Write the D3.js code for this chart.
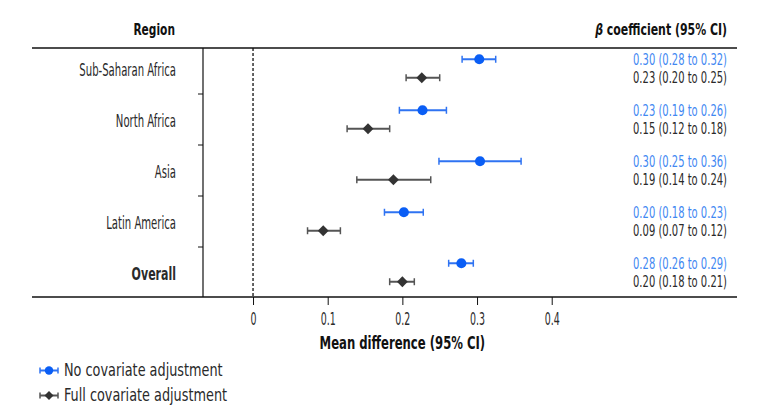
<!DOCTYPE html>
<html><head><meta charset="utf-8">
<script src="https://cdn.jsdelivr.net/npm/d3@7"></script>
<style>body{margin:0;background:#fff}svg{display:block}</style>
</head><body><svg id="c" width="771" height="414"></svg>
<script>
const regions = ["Sub-Saharan Africa","North Africa","Asia","Latin America","Overall"];
const noAdjEst = [0.303,0.227,0.304,0.202,0.279];
const noAdjLo  = [0.280,0.196,0.249,0.176,0.262];
const noAdjHi  = [0.325,0.259,0.359,0.228,0.295];
const fullEst  = [0.226,0.154,0.188,0.094,0.200];
const fullLo   = [0.205,0.126,0.139,0.073,0.183];
const fullHi   = [0.250,0.183,0.238,0.117,0.216];
const noAdjText = ["0.30 (0.28 to 0.32)","0.23 (0.19 to 0.26)","0.30 (0.25 to 0.36)","0.20 (0.18 to 0.23)","0.28 (0.26 to 0.29)"];
const fullText  = ["0.23 (0.20 to 0.25)","0.15 (0.12 to 0.18)","0.19 (0.14 to 0.24)","0.09 (0.07 to 0.12)","0.20 (0.18 to 0.21)"];
const xTicks = [0,0.1,0.2,0.3,0.4];
const seriesNames = ["No covariate adjustment","Full covariate adjustment"];

const FONT = "'DejaVu Sans Condensed','DejaVu Sans',sans-serif";
const svg = d3.select("#c").style("font-family", FONT);
const plotTop = 48, plotBottom = 297, axisX = 203;
const x = d3.scaleLinear().domain([-0.067, 0.4]).range([axisX, axisX + 0.467*746.7]);
const yG = d3.scaleBand().domain(regions).range([43, 298]);
const yS = d3.scalePoint().domain(["no","full"]).range([0, yG.bandwidth()]).padding(0.88);

// horizontally condense a text element about its anchor point
function cond(sel, sx){
  sel.each(function(){
    const t = d3.select(this), px = +t.attr("x")||0, py = +t.attr("y")||0;
    t.attr("transform", `translate(${px},${py}) scale(${sx},1) translate(${-px},${-py})`);
  });
  return sel;
}

const series = [
  {key:"no", est:noAdjEst, lo:noAdjLo, hi:noAdjHi, text:noAdjText, mark:"#0a5ef5", line:"#2f73f2", tc:"#3f88f2", shape:d3.symbolCircle, size:80},
  {key:"full", est:fullEst, lo:fullLo, hi:fullHi, text:fullText, mark:"#333", line:"#555", tc:"#2a2a2a", shape:d3.symbolDiamond2, size:75}
];

svg.append("line").attr("x1",32).attr("x2",737).attr("y1",plotTop).attr("y2",plotTop).attr("stroke","#111").attr("stroke-width",1.5);
svg.append("line").attr("x1",32).attr("x2",737).attr("y1",plotBottom).attr("y2",plotBottom).attr("stroke","#111").attr("stroke-width",1.5);
svg.append("line").attr("x1",axisX).attr("x2",axisX).attr("y1",plotTop).attr("y2",plotBottom).attr("stroke","#111").attr("stroke-width",1.2);
regions.slice(1).forEach(r=>{
  svg.append("line").attr("x1",axisX-5).attr("x2",axisX).attr("y1",yG(r)).attr("y2",yG(r)).attr("stroke","#111");
});
svg.append("line").attr("x1",x(0)).attr("x2",x(0)).attr("y1",plotTop).attr("y2",plotBottom).attr("stroke","#111").attr("stroke-width",1.3).attr("stroke-dasharray","3,2");

const xa = svg.append("g").attr("transform",`translate(0,${plotBottom})`)
  .call(d3.axisBottom(x).tickValues(xTicks).tickSize(8).tickPadding(8).tickFormat(d=>d===0?"0":d3.format(".1f")(d)));
xa.select(".domain").remove();
xa.selectAll("line").attr("stroke","#111");
xa.selectAll("text").attr("font-size",17.5).attr("fill","#2a2a2a").attr("font-family",FONT).attr("transform","scale(0.6,1)");

cond(svg.append("text").attr("x",175).attr("y",35).attr("text-anchor","end").attr("font-weight","bold").attr("font-size",16).attr("fill","#111").text("Region"),0.74);
const bh = svg.append("text").attr("x",727).attr("y",35).attr("text-anchor","end").attr("font-weight","bold").attr("font-size",16).attr("fill","#111");
bh.append("tspan").attr("font-style","italic").text("β");
bh.append("tspan").text(" coefficient (95% CI)");
cond(bh,0.76);

cond(svg.selectAll(".rl").data(regions).join("text").attr("class","rl")
  .attr("x",176).attr("y",d=>yG(d)+yG.bandwidth()/2+8).attr("text-anchor","end")
  .attr("font-size",17).attr("fill","#2a2a2a").attr("font-weight",d=>d==="Overall"?"bold":null)
  .text(d=>d), 0.66);
svg.selectAll(".rl").filter(d=>d==="Overall").each(function(){ cond(d3.select(this),0.72); });

series.forEach(s=>{
  const g = svg.append("g");
  regions.forEach((r,i)=>{
    const y = yG(r)+yS(s.key);
    g.append("line").attr("x1",x(s.lo[i])).attr("x2",x(s.hi[i])).attr("y1",y).attr("y2",y).attr("stroke",s.line).attr("stroke-width",2);
    [s.lo[i],s.hi[i]].forEach(v=>g.append("line").attr("x1",x(v)).attr("x2",x(v)).attr("y1",y-3.5).attr("y2",y+3.5).attr("stroke",s.line).attr("stroke-width",1.5));
    g.append("path").attr("d",d3.symbol().type(s.shape).size(s.size)()).attr("transform",`translate(${x(s.est[i])},${y})`).attr("fill",s.mark);
    cond(svg.append("text").attr("x",727).attr("y",y+5.4).attr("text-anchor","end").attr("font-size",15).attr("fill",s.tc).text(s.text[i]),0.74);
  });
});

cond(svg.append("text").attr("x",x(0.2)).attr("y",349).attr("text-anchor","middle").attr("font-weight","bold").attr("font-size",18).attr("fill","#111").text("Mean difference (95% CI)"),0.72);

series.forEach((s,i)=>{
  const y = 370.5 + i*25;
  svg.append("line").attr("x1",40).attr("x2",58).attr("y1",y).attr("y2",y).attr("stroke",s.line).attr("stroke-width",2);
  [40,58].forEach(v=>svg.append("line").attr("x1",v).attr("x2",v).attr("y1",y-3).attr("y2",y+3).attr("stroke",s.line).attr("stroke-width",1.5));
  svg.append("path").attr("d",d3.symbol().type(s.shape).size(s.size*0.7)()).attr("transform",`translate(49,${y})`).attr("fill",s.mark);
  cond(svg.append("text").attr("x",64).attr("y",y+6).attr("font-size",17).attr("fill","#2a2a2a").text(seriesNames[i]),0.84);
});
</script></body></html>
